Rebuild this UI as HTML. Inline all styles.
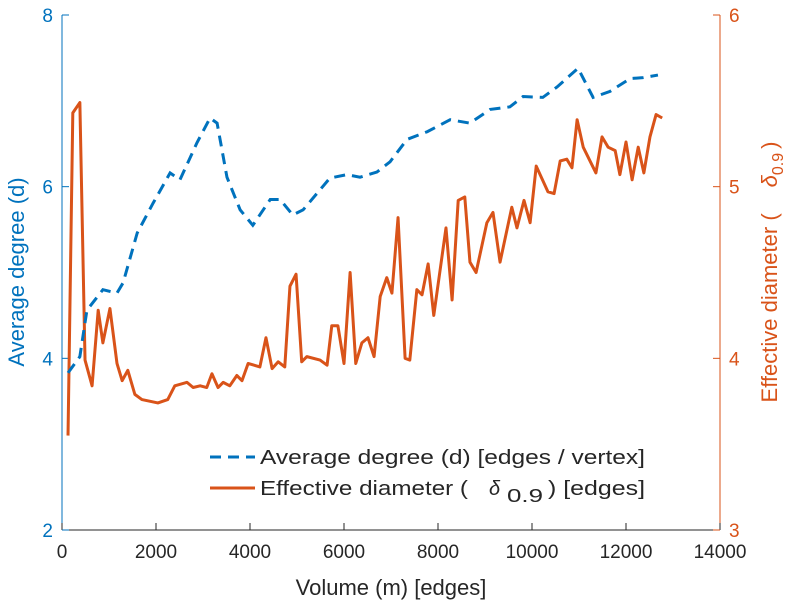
<!DOCTYPE html>
<html><head><meta charset="utf-8"><style>
html,body{margin:0;padding:0;background:#fff;}
svg{display:block;font-family:"Liberation Sans",sans-serif;}
</style></head><body>
<svg id="chart" width="795" height="600" viewBox="0 0 795 600" xmlns="http://www.w3.org/2000/svg"></svg>
<script>
const xTicks=[0,2000,4000,6000,8000,10000,12000,14000];
const leftTicks=[2,4,6,8];
const rightTicks=[3,4,5,6];
const degX=[128,380,530,870,1170,1300,1600,1940,2300,2510,2870,3150,3300,3510,3790,4060,4430,4640,4910,5130,5700,6060,6340,6700,6980,7340,7770,8260,8680,9110,9530,9810,10230,10530,10980,11300,11660,12090,12360,12680];
const degY=[3.83,4.02,4.56,4.80,4.76,4.88,5.46,5.81,6.16,6.08,6.51,6.80,6.74,6.11,5.73,5.55,5.85,5.85,5.67,5.73,6.10,6.14,6.11,6.17,6.29,6.55,6.64,6.78,6.74,6.90,6.93,7.05,7.04,7.16,7.38,7.04,7.11,7.26,7.27,7.30];
const diaX=[128,230,380,490,640,770,870,1020,1170,1280,1400,1550,1700,2040,2250,2400,2660,2790,2940,3080,3190,3320,3430,3570,3720,3830,3960,4210,4340,4470,4600,4740,4850,4980,5100,5210,5490,5640,5740,5870,6000,6130,6250,6380,6510,6640,6770,6910,7020,7150,7300,7400,7550,7660,7790,7910,8170,8300,8430,8570,8680,8810,9040,9170,9320,9570,9680,9830,9960,10090,10340,10470,10600,10740,10850,10960,11090,11360,11490,11620,11770,11870,12000,12130,12260,12380,12510,12640,12770];
const diaY=[3.55,5.43,5.49,3.99,3.84,4.28,4.09,4.29,3.97,3.87,3.93,3.79,3.76,3.74,3.76,3.84,3.86,3.83,3.84,3.83,3.91,3.83,3.86,3.84,3.90,3.87,3.97,3.95,4.12,3.94,3.98,3.95,4.42,4.49,3.98,4.01,3.99,3.96,4.19,4.19,3.97,4.50,3.97,4.09,4.12,4.01,4.36,4.47,4.38,4.82,4.00,3.99,4.40,4.37,4.55,4.25,4.76,4.34,4.92,4.94,4.56,4.50,4.79,4.85,4.56,4.88,4.76,4.92,4.79,5.12,4.97,4.96,5.15,5.16,5.11,5.39,5.23,5.08,5.29,5.23,5.21,5.07,5.26,5.04,5.23,5.08,5.29,5.42,5.40];

const NS="http://www.w3.org/2000/svg";
const svg=document.getElementById('chart');
const L=62,R=720,T=15,B=530;
const BLUE='#0072bd',ORANGE='#d95319';
const sx=v=>L+(v-0)/(14000-0)*(R-L);
const sl=v=>B-(v-2)/(8-2)*(B-T);
const sr=v=>B-(v-3)/(6-3)*(B-T);
function mk(tag,attrs,text){const e=document.createElementNS(NS,tag);for(const k in attrs)e.setAttribute(k,attrs[k]);if(text!==undefined)e.textContent=text;svg.appendChild(e);return e;}

let e=mk('line',{x1:L,y1:B,x2:R,y2:B,stroke:'#262626','stroke-width':1});


e=mk('line',{x1:L,y1:T,x2:L,y2:B,stroke:BLUE,'stroke-width':1});


e=mk('line',{x1:R,y1:T,x2:R,y2:B,stroke:ORANGE,'stroke-width':1});



xTicks.forEach(v=>{
  const x=sx(v);
  e=mk('line',{x1:x,y1:B,x2:x,y2:B-7,stroke:'#262626','stroke-width':1});
  
  
  e=mk('text',{x:x,y:B+28,'text-anchor':'middle','font-size':19,fill:'#262626'},String(v));
  
  
});
leftTicks.forEach(v=>{
  const y=sl(v);
  e=mk('line',{x1:L,y1:y,x2:L+7,y2:y,stroke:BLUE,'stroke-width':1});
  
  
  e=mk('text',{x:L-9,y:y+7,'text-anchor':'end','font-size':19,fill:BLUE},String(v));
  
  
});
rightTicks.forEach(v=>{
  const y=sr(v);
  e=mk('line',{x1:R,y1:y,x2:R-7,y2:y,stroke:ORANGE,'stroke-width':1});
  
  
  e=mk('text',{x:R+9,y:y+7,'text-anchor':'start','font-size':19,fill:ORANGE},String(v));
  
  
});

e=mk('polyline',{points:diaX.map((v,i)=>sx(v)+','+sr(diaY[i])).join(' '),fill:'none',stroke:ORANGE,'stroke-width':3,'stroke-linejoin':'round'});


e=mk('polyline',{points:degX.map((v,i)=>sx(v)+','+sl(degY[i])).join(' '),fill:'none',stroke:BLUE,'stroke-width':3,'stroke-dasharray':'11,7'});



e=mk('text',{x:(L+R)/2,y:595,'text-anchor':'middle','font-size':22,fill:'#262626'},'Volume (m) [edges]');


e=mk('text',{x:0,y:0,'text-anchor':'middle','font-size':22,fill:BLUE,transform:'translate(24,272) rotate(-90)'},'Average degree (d)');


e=mk('text',{x:0,y:0,'text-anchor':'middle','font-size':22,fill:ORANGE,transform:'translate(777,272) rotate(-90)'});


e.innerHTML='Effective diameter (<tspan dx="26" font-style="italic">δ</tspan><tspan font-size="16" dy="6">0.9</tspan><tspan dx="4" dy="-6">)</tspan>';

e=mk('line',{x1:210,y1:457,x2:255,y2:457,stroke:BLUE,'stroke-width':3,'stroke-dasharray':'11,7'});


e=mk('text',{x:260,y:464,'font-size':20,fill:'#262626',textLength:385,lengthAdjust:'spacingAndGlyphs'},'Average degree (d) [edges / vertex]');


e=mk('line',{x1:210,y1:488,x2:255,y2:488,stroke:ORANGE,'stroke-width':3});


e=mk('text',{x:260,y:495,'font-size':20,fill:'#262626'});


e.innerHTML='<tspan textLength="208" lengthAdjust="spacingAndGlyphs">Effective diameter (</tspan><tspan x="489" font-style="italic">δ</tspan><tspan x="507" font-size="18" dy="7" textLength="36" lengthAdjust="spacingAndGlyphs">0.9</tspan><tspan x="548" dy="-7" textLength="97" lengthAdjust="spacingAndGlyphs">) [edges]</tspan>';
</script>
</body></html>
